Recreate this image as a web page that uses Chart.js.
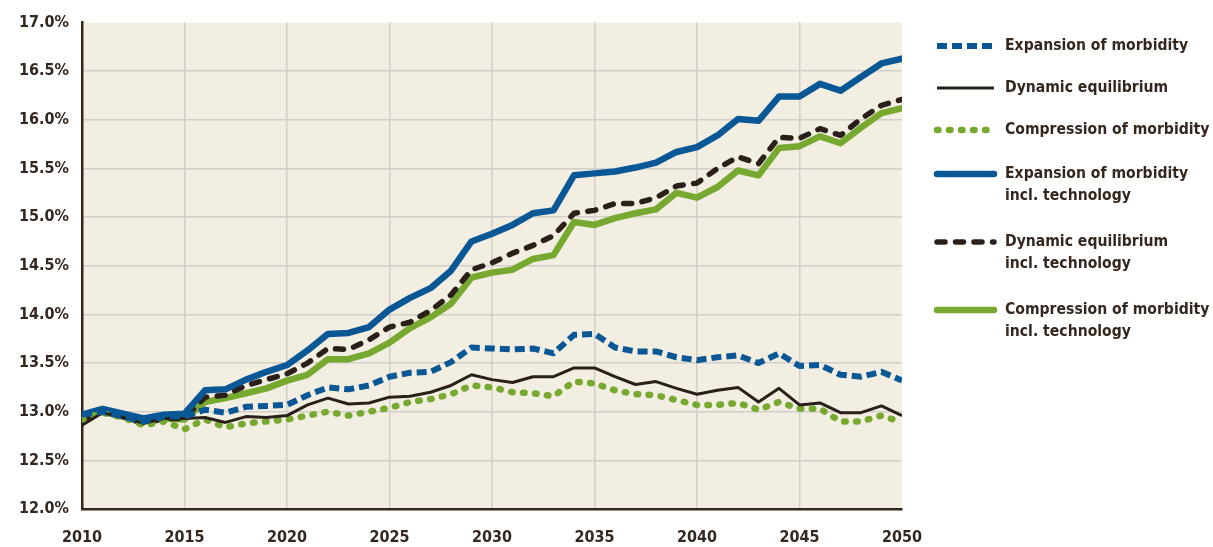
<!DOCTYPE html>
<html>
<head>
<meta charset="utf-8">
<script src="https://cdn.jsdelivr.net/npm/chart.js@4.4.1/dist/chart.umd.min.js"></script>
<style>
  html, body { margin: 0; padding: 0; background: #ffffff; }
</style>
</head>
<body>
<canvas id="graficoMorbidita" width="1213" height="547"></canvas>
<script>
// anni sull'asse x
var anni = [2010, 2011, 2012, 2013, 2014, 2015, 2016, 2017, 2018, 2019,
            2020, 2021, 2022, 2023, 2024, 2025, 2026, 2027, 2028, 2029,
            2030, 2031, 2032, 2033, 2034, 2035, 2036, 2037, 2038, 2039,
            2040, 2041, 2042, 2043, 2044, 2045, 2046, 2047, 2048, 2049, 2050];

// tacche asse y (%)
var tickY = [12.0, 12.5, 13.0, 13.5, 14.0, 14.5, 15.0, 15.5, 16.0, 16.5, 17.0];

// --- serie (valori in %) ---
var espansione = [12.97, 13.00, 12.95, 12.90, 12.95, 12.95, 13.02, 12.99, 13.05, 13.06,
                  13.07, 13.17, 13.25, 13.23, 13.27, 13.36, 13.40, 13.41, 13.51, 13.66,
                  13.65, 13.64, 13.65, 13.60, 13.79, 13.80, 13.66, 13.62, 13.62, 13.56,
                  13.53, 13.56, 13.58, 13.50, 13.60, 13.47, 13.48, 13.38, 13.36, 13.41, 13.32];

var equilibrio = [12.86, 12.99, 12.94, 12.88, 12.93, 12.93, 12.94, 12.89, 12.95, 12.94,
                  12.96, 13.07, 13.14, 13.08, 13.09, 13.15, 13.16, 13.20, 13.27, 13.38,
                  13.33, 13.30, 13.36, 13.36, 13.45, 13.45, 13.36, 13.28, 13.31, 13.24,
                  13.18, 13.22, 13.25, 13.10, 13.24, 13.07, 13.09, 12.99, 12.99, 13.06, 12.96];

var compressione = [12.92, 12.99, 12.94, 12.86, 12.90, 12.82, 12.92, 12.84, 12.88, 12.90,
                    12.92, 12.96, 13.00, 12.96, 13.00, 13.04, 13.10, 13.13, 13.18, 13.27,
                    13.25, 13.20, 13.19, 13.16, 13.31, 13.29, 13.22, 13.18, 13.17, 13.12,
                    13.07, 13.07, 13.09, 13.02, 13.10, 13.03, 13.03, 12.90, 12.90, 12.96, 12.89];

var espansioneTec = [12.97, 13.03, 12.98, 12.93, 12.97, 12.98, 13.22, 13.23, 13.33, 13.41,
                     13.48, 13.63, 13.80, 13.81, 13.87, 14.05, 14.17, 14.27, 14.45, 14.75,
                     14.83, 14.92, 15.04, 15.07, 15.43, 15.45, 15.47, 15.51, 15.56, 15.67,
                     15.72, 15.84, 16.01, 15.99, 16.24, 16.24, 16.37, 16.30, 16.44, 16.58, 16.63];

var equilibrioTec = [12.92, 13.00, 12.95, 12.88, 12.93, 12.93, 13.15, 13.17, 13.27, 13.33,
                     13.39, 13.50, 13.65, 13.64, 13.74, 13.87, 13.92, 14.04, 14.20, 14.46,
                     14.53, 14.63, 14.71, 14.81, 15.04, 15.07, 15.14, 15.14, 15.20, 15.32,
                     15.35, 15.50, 15.62, 15.55, 15.82, 15.81, 15.91, 15.84, 16.01, 16.15, 16.21];

var compressioneTec = [12.95, 13.00, 12.95, 12.90, 12.93, 12.92, 13.10, 13.14, 13.19, 13.24,
                       13.32, 13.38, 13.54, 13.54, 13.60, 13.71, 13.86, 13.97, 14.11, 14.38,
                       14.43, 14.46, 14.57, 14.61, 14.95, 14.92, 14.99, 15.04, 15.08, 15.25,
                       15.20, 15.31, 15.48, 15.43, 15.71, 15.73, 15.83, 15.76, 15.92, 16.07, 16.12];

var BLU = '#0a5796';
var NERO = '#2b2019';
var VERDE = '#77a830';
var TESTO = '#35271d';
var FONT = '"DejaVu Sans Condensed", "Liberation Sans Narrow", "DejaVu Sans", sans-serif';

function punti(valori) {
    return valori.map(function (v, i) { return { x: anni[i], y: v }; });
}

// sfondo beige dell'area del grafico
var sfondoPlugin = {
    id: 'sfondoArea',
    beforeDraw: function (chart) {
        var a = chart.chartArea;
        var ctx = chart.ctx;
        ctx.save();
        ctx.fillStyle = '#f3eee2';
        ctx.fillRect(a.left, a.top, a.right - a.left, a.bottom - a.top);
        ctx.restore();
    }
};

// legenda a destra, disegnata a mano (etichette su due righe)
var legendaPlugin = {
    id: 'legendaDestra',
    afterDraw: function (chart) {
        var ctx = chart.ctx;
        var posY = [46, 88, 130, 174, 242, 310];
        chart.data.datasets.forEach(function (ds, i) {
            var y = posY[i];
            ctx.save();
            ctx.strokeStyle = ds.borderColor;
            ctx.lineWidth = ds.borderWidth;
            ctx.lineCap = ds.borderCapStyle || 'butt';
            ctx.setLineDash(ds.borderDash || []);
            ctx.beginPath();
            ctx.moveTo(937, y);
            ctx.lineTo(994, y);
            ctx.stroke();
            ctx.setLineDash([]);
            ctx.fillStyle = TESTO;
            ctx.font = 'bold 15.6px ' + FONT;
            ctx.textBaseline = 'middle';
            ds.label.split('\n').forEach(function (riga, k) {
                ctx.fillText(riga, 1005, y + k * 22);
            });
            ctx.restore();
        });
    }
};

var ctx = document.getElementById('graficoMorbidita').getContext('2d');
new Chart(ctx, {
    type: 'line',
    data: {
        datasets: [
            {
                label: 'Expansion of morbidity',
                data: punti(espansione),
                borderColor: BLU,
                borderWidth: 6,
                borderDash: [10, 5],
                borderCapStyle: 'butt'
            },
            {
                label: 'Dynamic equilibrium',
                data: punti(equilibrio),
                borderColor: NERO,
                borderWidth: 3
            },
            {
                label: 'Compression of morbidity',
                data: punti(compressione),
                borderColor: VERDE,
                borderWidth: 6.5,
                borderDash: [1.5, 10.5],
                borderCapStyle: 'round'
            },
            {
                label: 'Expansion of morbidity\nincl. technology',
                data: punti(espansioneTec),
                borderColor: BLU,
                borderWidth: 6.5,
                borderCapStyle: 'round'
            },
            {
                label: 'Dynamic equilibrium\nincl. technology',
                data: punti(equilibrioTec),
                borderColor: NERO,
                borderWidth: 5.5,
                borderDash: [8, 10.5],
                borderCapStyle: 'round'
            },
            {
                label: 'Compression of morbidity\nincl. technology',
                data: punti(compressioneTec),
                borderColor: VERDE,
                borderWidth: 6.5,
                borderCapStyle: 'round'
            }
        ]
    },
    options: {
        responsive: false,
        animation: false,
        layout: { padding: { left: 0, right: 311, top: 22, bottom: 0 } },
        elements: {
            point: { radius: 0, hoverRadius: 0 },
            line: { tension: 0, borderJoinStyle: 'round', fill: false }
        },
        plugins: {
            legend: { display: false },
            tooltip: { enabled: false }
        },
        scales: {
            x: {
                type: 'linear',
                min: anni[0],
                max: anni[anni.length - 1],
                afterFit: function (s) { s.height = 38; },
                ticks: {
                    stepSize: 5,
                    padding: 19,
                    color: TESTO,
                    font: { family: FONT, size: 16, weight: 'bold' },
                    callback: function (v) { return String(v); }
                },
                grid: {
                    drawTicks: false,
                    lineWidth: 1.5,
                    color: function (c) {
                        return (c.tick && c.tick.value === anni[anni.length - 1]) ? 'rgba(0,0,0,0)' : '#d2cec9';
                    }
                },
                border: { display: true, color: TESTO, width: 2.5 }
            },
            y: {
                type: 'linear',
                min: tickY[0],
                max: tickY[tickY.length - 1],
                afterFit: function (s) { s.width = 82; },
                afterBuildTicks: function (s) {
                    s.ticks = tickY.map(function (v) { return { value: v }; });
                },
                ticks: {
                    padding: 13,
                    color: TESTO,
                    font: { family: FONT, size: 16, weight: 'bold' },
                    callback: function (v) { return Number(v).toFixed(1) + '%'; }
                },
                grid: {
                    drawTicks: false,
                    lineWidth: 1.5,
                    color: function (c) {
                        return (c.tick && c.tick.value === tickY[tickY.length - 1]) ? 'rgba(0,0,0,0)' : '#d2cec9';
                    }
                },
                border: { display: true, color: TESTO, width: 2.5 }
            }
        }
    },
    plugins: [sfondoPlugin, legendaPlugin]
});
</script>
</body>
</html>
